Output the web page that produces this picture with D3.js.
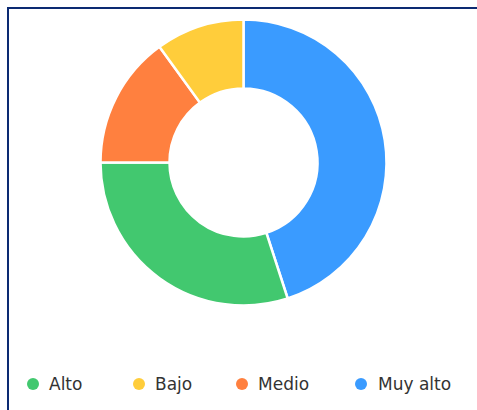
<!DOCTYPE html>
<html>
<head>
<meta charset="utf-8">
<script src="https://cdn.jsdelivr.net/npm/d3@7"></script>
<style>
  html, body { margin: 0; padding: 0; background: #fff; overflow: hidden; }
  svg { display: block; }
</style>
</head>
<body>
<svg id="chart" width="477" height="410"></svg>
<script>
// slices in drawing order (clockwise from 12 o'clock)
var sliceLabels = ["Muy alto", "Alto", "Medio", "Bajo"];
var sliceValues = [9, 6, 3, 2];
var sliceColors = ["#3a9bff", "#42c86f", "#ff803f", "#ffcd3b"];

// legend order
var legendLabels = ["Alto", "Bajo", "Medio", "Muy alto"];
var legendX = [33, 139, 242, 361];

var svg = d3.select("#chart");

// frame
svg.append("rect")
  .attr("x", 8).attr("y", 8)
  .attr("width", 520).attr("height", 460)
  .attr("fill", "none")
  .attr("stroke", "#0c2a72")
  .attr("stroke-width", 2);

var cx = 243.5, cy = 162.5;
var outerR = 143, innerR = 74;

var color = d3.scaleOrdinal().domain(sliceLabels).range(sliceColors);

var pie = d3.pie().sort(null).value(function(d, i) { return sliceValues[i]; });
var arc = d3.arc().innerRadius(innerR).outerRadius(outerR);

var g = svg.append("g").attr("transform", "translate(" + cx + "," + cy + ")");

g.selectAll("path")
  .data(pie(sliceLabels))
  .enter()
  .append("path")
  .attr("d", arc)
  .attr("fill", function(d) { return color(d.data); })
  .attr("stroke", "#fff")
  .attr("stroke-width", 2.5);

// legend
var legend = svg.append("g");
var items = legend.selectAll("g")
  .data(legendLabels)
  .enter()
  .append("g")
  .attr("transform", function(d, i) { return "translate(" + legendX[i] + ",384)"; });

items.append("circle")
  .attr("r", 6)
  .attr("fill", function(d) { return color(d); });

items.append("text")
  .attr("x", function(d, i) { return i == 3 ? 17 : 16; })
  .attr("y", 6)
  .attr("font-family", "DejaVu Sans, sans-serif")
  .attr("font-size", 17)
  .attr("fill", "#333")
  .text(function(d) { return d; });
</script>
</body>
</html>
